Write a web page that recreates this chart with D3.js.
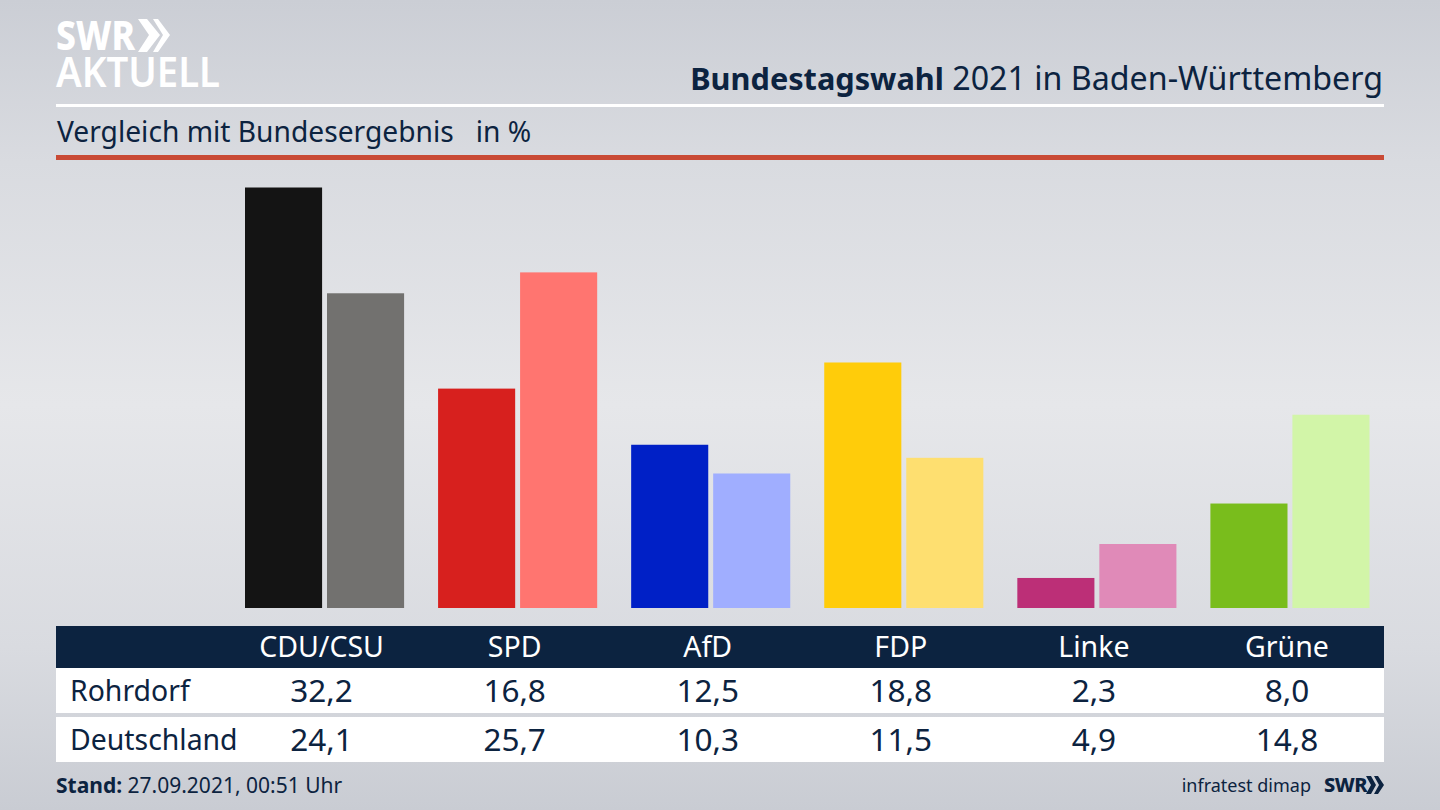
<!DOCTYPE html>
<html lang="de">
<head>
<meta charset="utf-8">
<title>Bundestagswahl 2021 in Baden-Württemberg</title>
<script src="https://cdn.jsdelivr.net/npm/d3@7"></script>
<style>
  html, body { margin: 0; padding: 0; background: #d5d8dd; }
  svg { display: block; }
  text { font-family: "Noto Sans", "Open Sans", sans-serif; }
</style>
</head>
<body>
<div id="chart"></div>
<script>
const parties = ['CDU/CSU', 'SPD', 'AfD', 'FDP', 'Linke', 'Grüne'];
const rohrdorf = [32.2, 16.8, 12.5, 18.8, 2.3, 8.0];
const deutschland = [24.1, 25.7, 10.3, 11.5, 4.9, 14.8];
const regions = ['Rohrdorf', 'Deutschland'];
const colorsRohrdorf = ['#141414', '#d7201e', '#0020c6', '#ffcc0a', '#bc2f77', '#79bd1c'];
const colorsDeutschland = ['#72716f', '#ff7570', '#a0aeff', '#fedf70', '#e08ab8', '#d2f5a8'];

const NAVY = '#0c2340';
const W = 1440, H = 810;
const fmt = v => v.toFixed(1).replace('.', ',');

const svg = d3.select('#chart').append('svg')
  .attr('width', W).attr('height', H);

// ── 背景 ──
const defs = svg.append('defs');
const bgV = defs.append('linearGradient').attr('id', 'bgV')
  .attr('x1', 0).attr('x2', 0).attr('y1', 0).attr('y2', 1);
[[0, '#cbced5'], [0.2, '#d9dbe0'], [0.5, '#e6e7ea'], [0.8, '#d9dbe0'], [1, '#c9ccd3']]
  .forEach(s => bgV.append('stop').attr('offset', s[0]).attr('stop-color', s[1]));
svg.append('rect').attr('width', W).attr('height', H).attr('fill', 'url(#bgV)');

// ── ロゴ ──
const logo = svg.append('g').attr('fill', '#fff');
logo.append('text').attr('x', 56).attr('y', 50)
  .attr('font-size', 41).attr('font-weight', 800)
  .attr('textLength', 79).attr('lengthAdjust', 'spacingAndGlyphs')
  .text('SWR');
logo.append('path').attr('d', 'M138,19 L147,19 L160,35 L147,52 L138,52 L149,35 Z');
logo.append('path').attr('d', 'M153,19 L158,19 L170,35 L158,52 L153,52 L163,35 Z');
logo.append('text').attr('x', 56).attr('y', 87)
  .attr('font-size', 41).attr('font-weight', 600)
  .attr('textLength', 164).attr('lengthAdjust', 'spacingAndGlyphs')
  .text('AKTUELL');

// ── 見出し ──
const title = svg.append('text').attr('x', 1383).attr('y', 90)
  .attr('text-anchor', 'end').attr('font-size', 32.2).attr('fill', NAVY);
title.append('tspan').attr('font-weight', 700).attr('font-size', 30.7).text('Bundestagswahl');
title.append('tspan').text(' 2021 in Baden-Württemberg');

svg.append('rect').attr('x', 56).attr('y', 104).attr('width', 1328).attr('height', 3).attr('fill', '#fff');
svg.append('text').attr('x', 57).attr('y', 142)
  .attr('font-size', 28.2).attr('fill', NAVY).attr('xml:space', 'preserve')
  .text('Vergleich mit Bundesergebnis   in %');
svg.append('rect').attr('x', 56).attr('y', 155).attr('width', 1328).attr('height', 5).attr('fill', '#c94a35');

// ── 棒 ──
const x0 = d3.scaleBand().domain(parties).range([245, 1369.5]).paddingInner(0.176).paddingOuter(0);
const x1 = d3.scaleBand().domain(regions).range([0, x0.bandwidth()]).padding(0).paddingInner(0.06);
const y = d3.scaleLinear().domain([0, 32.2]).range([608, 187.5]);

const groups = svg.append('g').selectAll('g')
  .data(parties)
  .join('g')
  .attr('transform', d => `translate(${x0(d)},0)`);

groups.append('rect')
  .attr('x', x1('Rohrdorf'))
  .attr('y', (d, i) => y(rohrdorf[i]))
  .attr('width', x1.bandwidth())
  .attr('height', (d, i) => y(0) - y(rohrdorf[i]))
  .attr('fill', (d, i) => colorsRohrdorf[i]);

groups.append('rect')
  .attr('x', x1('Deutschland'))
  .attr('y', (d, i) => y(deutschland[i]))
  .attr('width', x1.bandwidth())
  .attr('height', (d, i) => y(0) - y(deutschland[i]))
  .attr('fill', (d, i) => colorsDeutschland[i]);

// ── 表 ──
svg.append('rect').attr('x', 56).attr('y', 626).attr('width', 1328).attr('height', 42).attr('fill', NAVY);
svg.append('rect').attr('x', 56).attr('y', 668).attr('width', 1328).attr('height', 45).attr('fill', '#fff');
svg.append('rect').attr('x', 56).attr('y', 717).attr('width', 1328).attr('height', 45).attr('fill', '#fff');

const colX = d => x0(d) + x0.bandwidth() / 2 - 3;

svg.append('g').selectAll('text')
  .data(parties)
  .join('text')
  .attr('x', colX).attr('y', 657)
  .attr('text-anchor', 'middle').attr('font-size', 28.5).attr('fill', '#fff')
  .text(d => d);

[[rohrdorf, 701], [deutschland, 750]].forEach(([vals, base], r) => {
  svg.append('text').attr('x', 70).attr('y', base)
    .attr('font-size', 28.4).attr('fill', NAVY).text(regions[r]);
  svg.append('g').selectAll('text')
    .data(vals)
    .join('text')
    .attr('x', (d, i) => colX(parties[i])).attr('y', base + 1)
    .attr('text-anchor', 'middle').attr('font-size', 31.5).attr('fill', NAVY)
    .text(fmt);
});

// ── 脚注 ──
const stand = svg.append('text').attr('x', 56).attr('y', 793)
  .attr('font-size', 21).attr('fill', NAVY);
stand.append('tspan').attr('font-weight', 700).text('Stand:');
stand.append('tspan').text(' 27.09.2021, 00:51 Uhr');

svg.append('text').attr('x', 1311).attr('y', 792)
  .attr('text-anchor', 'end').attr('font-size', 18).attr('fill', NAVY)
  .text('infratest dimap');
svg.append('text').attr('x', 1324).attr('y', 792)
  .attr('font-size', 20).attr('font-weight', 800).attr('letter-spacing', -0.5).attr('fill', NAVY)
  .text('SWR');
svg.append('path').attr('fill', NAVY).attr('d', 'M1366,776 L1371,776 L1376,785 L1371,794 L1366,794 L1371,785 Z');
svg.append('path').attr('fill', NAVY).attr('d', 'M1374,776 L1378,776 L1384,785 L1378,794 L1374,794 L1379,785 Z');
</script>
</body>
</html>
